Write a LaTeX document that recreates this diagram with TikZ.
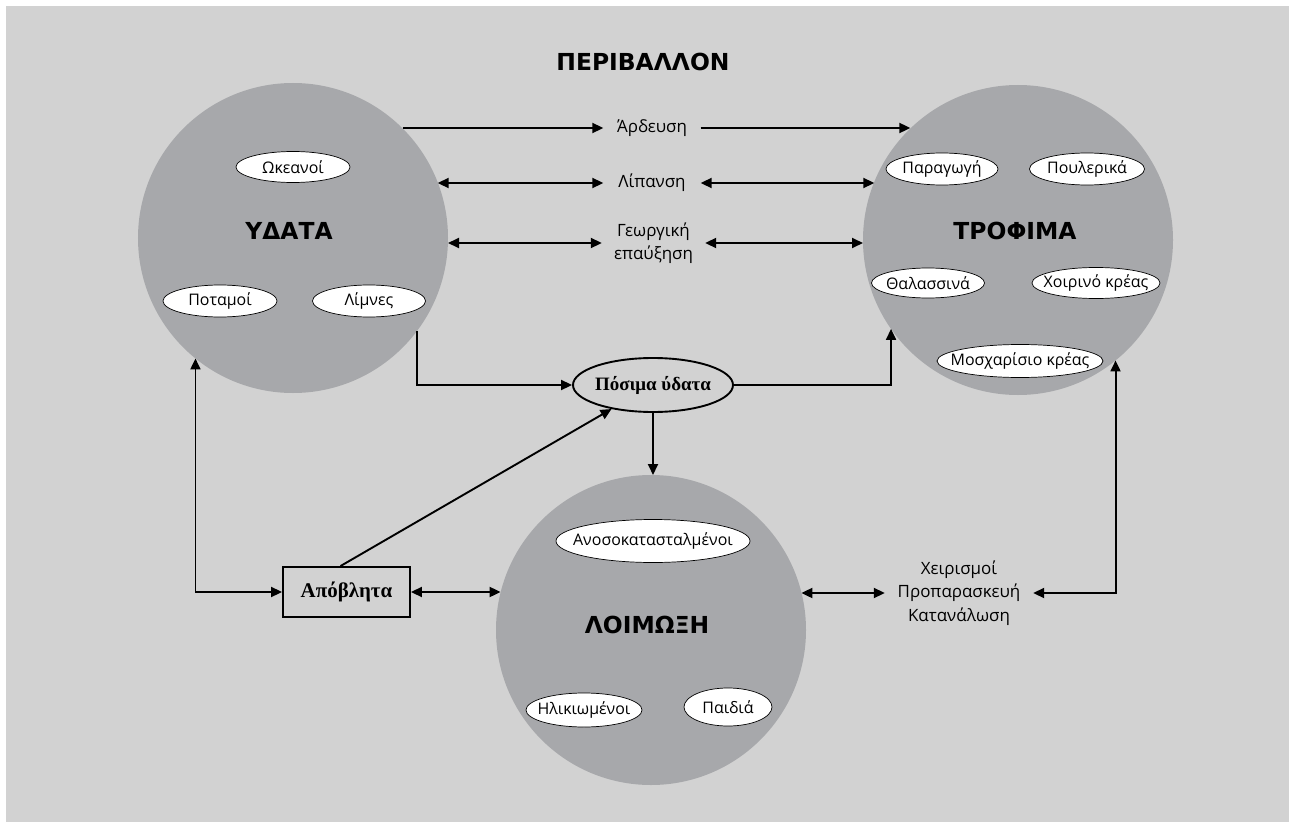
\documentclass[tikz,border=0pt]{standalone}
\usepackage{fontspec}
\setmainfont{Open Sans}
\newfontfamily\serifb{Liberation Serif}
\newfontfamily\heavy{DejaVu Sans}
\usetikzlibrary{arrows.meta,shapes.geometric}
\definecolor{bg}{RGB}{210,210,210}
\definecolor{circ}{RGB}{167,168,171}
\newcommand\zw[1]{\makebox[0pt]{#1}}
\begin{document}
\begin{tikzpicture}[x=1bp,y=-1bp,
  big/.style={circle,fill=circ,minimum size=310bp,inner sep=0,outer sep=0},
  ttl/.style={inner sep=0,font=\heavy\bfseries\fontsize{23.5}{28}\selectfont},
  sub/.style={ellipse,draw,fill=white,line width=0.7bp,inner sep=0,font=\fontsize{16}{19}\selectfont},
  lbl/.style={inner sep=0,font=\fontsize{17}{23.5}\selectfont,align=center},
  tip/.tip={Triangle[length=11bp,width=10bp]},
  arr/.style={line width=1.9bp,-tip},
  darr/.style={line width=1.9bp,tip-tip},
]
\useasboundingbox (0,0) rectangle (1289,822);
\fill[white] (0,0) rectangle (1289,822);
\fill[bg] (6,6) rectangle (1289,822);

\node[ttl] (title) at (643,62) {ΠΕΡΙΒΑΛΛΟΝ};

% big circles
\node[big] (ydata) at (293,238) {};
\node[big] (trofima) at (1018,240) {};
\node[big] (loimoxi) at (651,630) {};
\node[ttl] (ydatat) at (289,231) {ΥΔΑΤΑ};
\node[ttl] (trofimat) at (1015,231) {ΤΡΟΦΙΜΑ};
\node[ttl] (loimoxit) at (647,625) {ΛΟΙΜΩΞΗ};

% sub ellipses
\node[sub,minimum width=114bp,minimum height=31bp] (okeanoi) at (293,167) {\zw{Ωκεανοί}};
\node[sub,minimum width=114bp,minimum height=32bp] (potamoi) at (220,301) {\zw{Ποταμοί}};
\node[sub,minimum width=113bp,minimum height=32bp] (limnes) at (369,301) {\zw{Λίμνες}};
\node[sub,minimum width=112bp,minimum height=32bp] (paragogi) at (942,169) {\zw{Παραγωγή}};
\node[sub,minimum width=115bp,minimum height=32bp] (poulerika) at (1087,169) {\zw{Πουλερικά}};
\node[sub,minimum width=113bp,minimum height=30bp] (thalassina) at (928,283) {\zw{Θαλασσινά}};
\node[sub,minimum width=128bp,minimum height=31bp] (xoirino) at (1096,283) {\zw{Χοιρινό κρέας}};
\node[sub,minimum width=166bp,minimum height=33bp] (mosxari) at (1020,361) {\zw{Μοσχαρίσιο κρέας}};
\node[sub,minimum width=194bp,minimum height=43bp] (anoso) at (653,541) {\zw{Ανοσοκατασταλμένοι}};
\node[sub,minimum width=116bp,minimum height=34bp] (ilikio) at (584,710) {\zw{Ηλικιωμένοι}};
\node[sub,minimum width=88bp,minimum height=38bp] (paidia) at (728,707) {\zw{Παιδιά}};

% middle nodes
\node[ellipse,draw,fill=bg,line width=1.9bp,minimum width=160bp,minimum height=54bp,inner sep=0,
      font=\serifb\bfseries\fontsize{19}{21}\selectfont] (posima) at (653,385) {\zw{Πόσιμα ύδατα}};
\node[rectangle,draw,line width=1.9bp,minimum width=127bp,minimum height=50bp,inner sep=0,
      font=\serifb\bfseries\fontsize{21}{23}\selectfont] (apobl) at (346.5,592) {Απόβλητα};

% labels
\node[lbl,minimum width=97bp] (ardeusi) at (652,128) {Άρδευση};
\node[lbl,minimum width=97bp] (lipansi) at (652,183) {Λίπανση};
\node[lbl,minimum width=103bp] (georgiki) at (653.5,243) {Γεωργική\\επαύξηση};
\node[lbl,minimum width=148bp] (xeir) at (959,593) {Χειρισμοί\\Προπαρασκευή\\Κατανάλωση};

% connectors
\draw[arr] (ydata.45 |- ardeusi) -- (ardeusi.west);
\draw[arr] (ardeusi.east) -- (trofima.134 |- ardeusi);
\draw[darr] (ydata.21 |- lipansi) -- (lipansi.west);
\draw[darr] (lipansi.east) -- (trofima.158 |- lipansi);
\draw[darr] (ydata.east |- georgiki) -- (georgiki.west);
\draw[darr] (georgiki.east) -- (trofima.west |- georgiki);

\draw[arr] (ydata.-37) |- (posima.west);
\draw[arr] (posima.east) -| (trofima.-145);
\draw[arr] (posima.south) -- (posima.south |- loimoxi.north);
\draw[arr] ([xshift=-6bp]apobl.north) -- (posima);
\draw[darr] (ydata.-129) |- (apobl.west);
\draw[darr] (apobl.east) -- (apobl.east -| loimoxi.166);
\draw[darr] (loimoxi.14 |- xeir) -- (xeir.west);
\draw[darr] (xeir.east) -| (trofima.-51);
\end{tikzpicture}
\end{document}
